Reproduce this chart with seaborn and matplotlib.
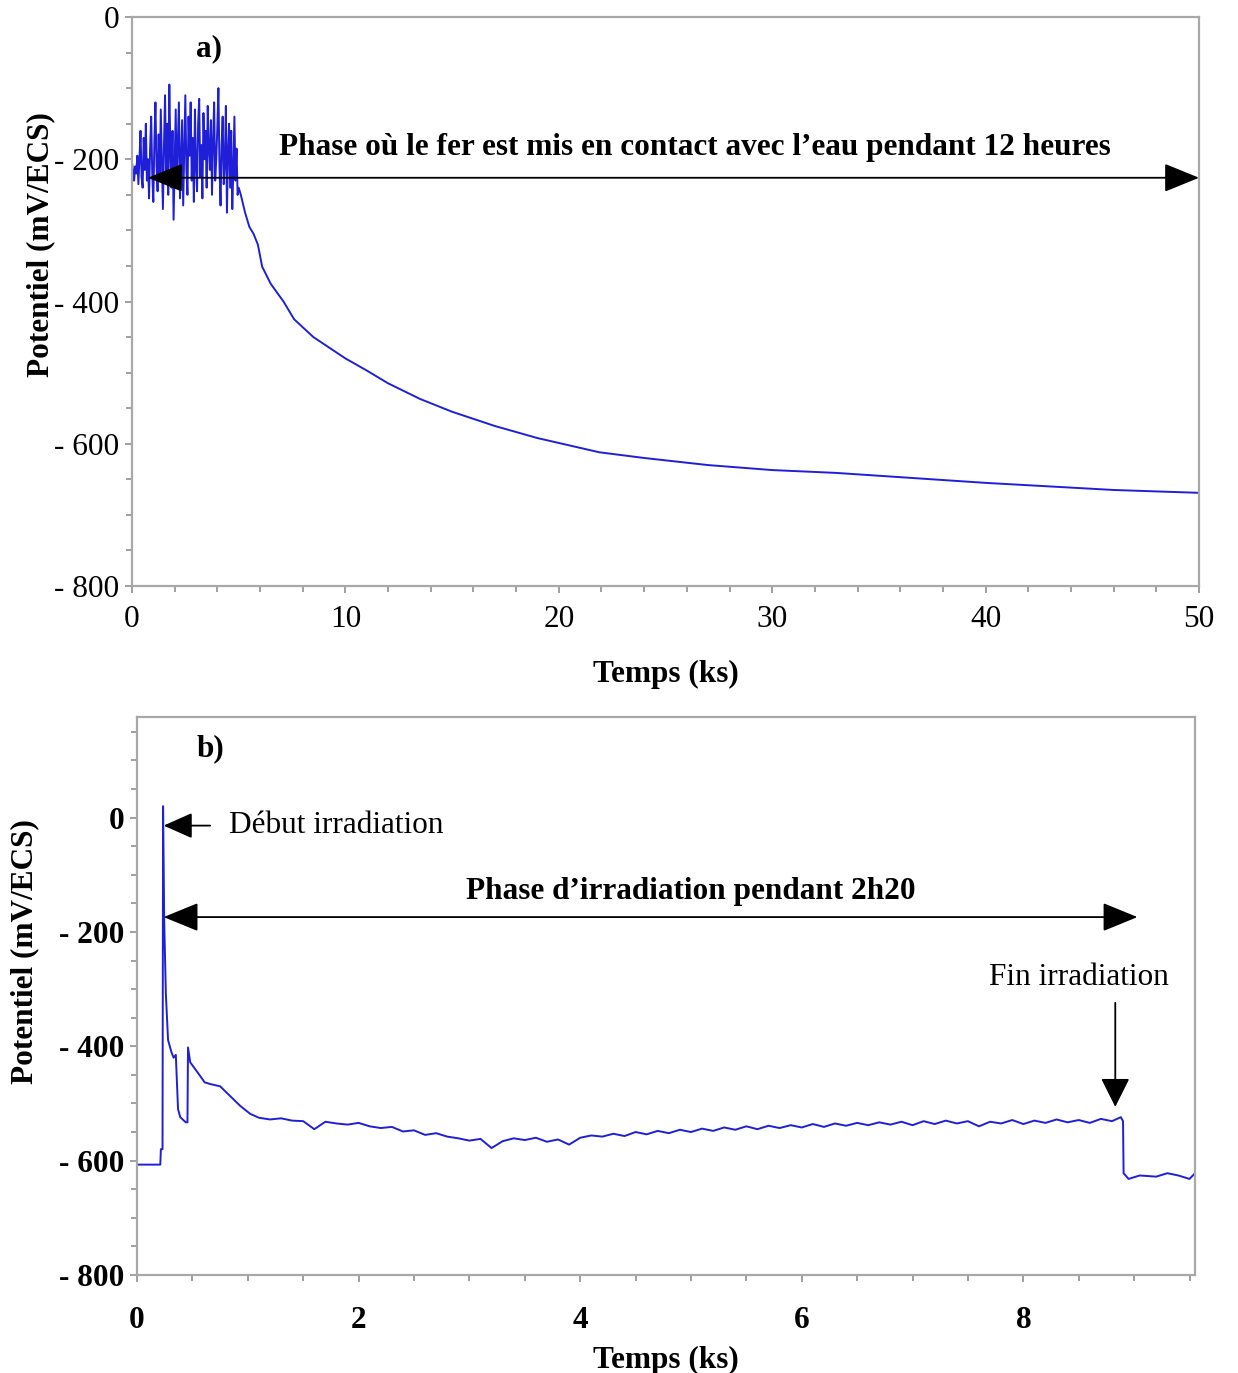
import numpy as np
import pandas as pd
import matplotlib
matplotlib.use("Agg")
import matplotlib.pyplot as plt
import seaborn as sns

# ---- data ----
# a) fer au contact de l'eau, 0-50 ks
t_a_noise = [0.00, 0.05, 0.10, 0.15, 0.20, 0.25, 0.30, 0.35, 0.40, 0.45,
             0.50, 0.55, 0.60, 0.65, 0.70, 0.75, 0.80, 0.85, 0.90, 0.95,
             1.00, 1.05, 1.10, 1.15, 1.20, 1.25, 1.30, 1.35, 1.40, 1.45,
             1.50, 1.55, 1.60, 1.65, 1.70, 1.75, 1.80, 1.85, 1.90, 1.95,
             2.00, 2.05, 2.10, 2.15, 2.20, 2.25, 2.30, 2.35, 2.40, 2.45,
             2.50, 2.55, 2.60, 2.65, 2.70, 2.75, 2.80, 2.85, 2.90, 2.95,
             3.00, 3.05, 3.10, 3.15, 3.20, 3.25, 3.30, 3.35, 3.40, 3.45,
             3.50, 3.55, 3.60, 3.65, 3.70, 3.75, 3.80, 3.85, 3.90, 3.95,
             4.00, 4.05, 4.10, 4.15, 4.20, 4.25, 4.30, 4.35, 4.40, 4.45,
             4.50, 4.55, 4.60, 4.65, 4.70, 4.75, 4.80, 4.85, 4.90, 4.95,
             5.00]
e_a_noise = [-205, -215, -230, -210, -220, -195, -235, -200, -160, -225,
             -240, -170, -215, -150, -230, -200, -255, -185, -140, -220,
             -260, -175, -120, -210, -245, -165, -230, -130, -200, -270,
             -180, -110, -225, -150, -250, -95, -190, -240, -160, -285,
             -205, -130, -235, -175, -120, -255, -200, -145, -265, -185,
             -110, -215, -250, -140, -195, -120, -230, -170, -260, -130,
             -210, -245, -150, -115, -225, -180, -255, -135, -200, -160,
             -240, -125, -185, -215, -145, -250, -175, -120, -230, -200,
             -155, -100, -210, -265, -180, -140, -235, -205, -125, -275,
             -190, -150, -240, -160, -270, -215, -140, -230, -185, -250,
             -240]
t_a_decay = [5.1, 5.3, 5.5, 5.7, 5.9, 6.1, 6.5, 7.1, 7.6, 8.5, 10, 11, 12,
             13.5, 15, 17, 19, 21.9, 24, 27, 30, 33, 36, 40, 43, 46, 50]
e_a_decay = [-250, -275, -295, -305, -320, -351, -375, -400, -425, -450, -480,
             -497, -515, -537, -555, -575, -592, -612, -620, -630, -637, -641,
             -647, -655, -660, -665, -669]

# b) irradiation, 0-9.5 ks
t_b_start = [0, 0.21, 0.215, 0.23, 0.235, 0.245, 0.26, 0.28, 0.31, 0.33, 0.35,
             0.37, 0.39, 0.44, 0.455, 0.46, 0.48, 0.57, 0.61, 0.66, 0.75, 0.84,
             0.93, 1.02]
e_b_start = [-607, -607, -580, -580, 20, -180, -308, -389, -410, -420, -415,
             -510, -524, -533, -533, -402, -428, -452, -463, -466, -470, -487,
             -504, -518]
t_b_mid = [1.1, 1.2, 1.3, 1.4, 1.5, 1.6, 1.7, 1.8, 1.9, 2.0,
           2.1, 2.2, 2.3, 2.4, 2.5, 2.6, 2.7, 2.8, 2.9, 3.0,
           3.1, 3.2, 3.3, 3.4, 3.5, 3.6, 3.7, 3.8, 3.9, 4.0,
           4.1, 4.2, 4.3, 4.4, 4.5, 4.6, 4.7, 4.8, 4.9, 5.0,
           5.1, 5.2, 5.3, 5.4, 5.5, 5.6, 5.7, 5.8, 5.9, 6.0,
           6.1, 6.2, 6.3, 6.4, 6.5, 6.6, 6.7, 6.8, 6.9, 7.0,
           7.1, 7.2, 7.3, 7.4, 7.5, 7.6, 7.7, 7.8, 7.9, 8.0,
           8.1, 8.2, 8.3, 8.4, 8.5, 8.6, 8.7, 8.8]
e_b_mid = [-525, -528, -526, -530, -531, -545, -532, -535, -537, -534,
           -540, -543, -541, -549, -547, -555, -552, -558, -561, -565,
           -562, -578, -566, -561, -564, -560, -567, -563, -572, -560,
           -556, -558, -553, -557, -550, -554, -548, -552, -546, -550,
           -544, -548, -542, -546, -540, -545, -539, -543, -538, -542,
           -536, -541, -535, -539, -534, -538, -533, -537, -532, -538,
           -531, -536, -530, -535, -531, -540, -532, -535, -529, -536,
           -530, -534, -528, -533, -529, -534, -527, -531]
t_b_end = [8.88, 8.9, 8.905, 8.95, 9.05, 9.2, 9.3, 9.4, 9.5, 9.55]
e_b_end = [-524, -531, -622, -632, -626, -628, -622, -626, -632, -622]

df_a = pd.DataFrame({"t": t_a_noise + t_a_decay, "E": e_a_noise + e_a_decay})
df_b = pd.DataFrame({"t": t_b_start + t_b_mid + t_b_end,
                     "E": e_b_start + e_b_mid + e_b_end})

sns.set_style("white")
plt.rcParams['font.family'] = ['Liberation Serif', 'DejaVu Serif']
plt.rcParams['text.color'] = 'black'
plt.rcParams['axes.labelcolor'] = 'black'
plt.rcParams['xtick.labelcolor'] = 'black'
plt.rcParams['ytick.labelcolor'] = 'black'

line_col = "#1f1fd8"
spine_col = "#a8a8a8"
fs = 22.5

fig = plt.figure(figsize=(12.38, 13.73), dpi=100)
ax1 = fig.add_axes([0.1066, 0.5732, 0.8619, 0.4144])
ax2 = fig.add_axes([0.1107, 0.0714, 0.8546, 0.4064])

sns.lineplot(data=df_a, x="t", y="E", ax=ax1, sort=False, estimator=None,
             color=line_col, linewidth=1.4)
sns.lineplot(data=df_b, x="t", y="E", ax=ax2, sort=False, estimator=None,
             color=line_col, linewidth=1.4)

def style_axes(ax, bold, xpad):
    for s in ax.spines.values():
        s.set_color(spine_col)
        s.set_linewidth(1.6)
    ax.tick_params(which="both", direction="out", color="#909090", width=1.2)
    ax.tick_params(which="major", length=5, pad=4, labelsize=fs)
    ax.tick_params(axis="x", which="major", pad=xpad)
    ax.tick_params(which="minor", length=4)
    ax.tick_params(axis="x", which="both", bottom=True)
    ax.tick_params(axis="y", which="both", left=True)
    w = "bold" if bold else "normal"
    for lab in ax.get_xticklabels() + ax.get_yticklabels():
        lab.set_fontweight(w)

# panel a
ax1.set_xlim(0, 50)
ax1.set_ylim(-800, 0)
ax1.set_xticks([0, 10, 20, 30, 40, 50])
ax1.set_xticks(np.arange(0, 51, 2), minor=True)
ax1.set_yticks([0, -200, -400, -600, -800])
ax1.set_yticks(np.arange(-800, 1, 50), minor=True)
ax1.set_yticklabels(["0", "- 200", "- 400", "- 600", "- 800"])
ax1.set_xlabel("Temps (ks)", fontsize=fs, fontweight="bold", labelpad=18)
ax1.set_ylabel("Potentiel (mV/ECS)", fontsize=fs, fontweight="bold")
ax1.yaxis.set_label_coords(-0.072, 0.6)
style_axes(ax1, False, 9)
ax1.text(3.6, -45, "a)", fontsize=fs, fontweight="bold", ha="center", va="center")
ax1.text(26.4, -183, "Phase où le fer est mis en contact avec l’eau pendant 12 heures",
         fontsize=fs, fontweight="bold", ha="center", va="center")
ax1.annotate("", xy=(0.75, -226), xytext=(50, -226),
             arrowprops=dict(arrowstyle="<|-|>,head_length=1.1,head_width=0.45",
                             mutation_scale=20, color="black", lw=1.3,
                             shrinkA=0, shrinkB=0))

# panel b
ax2.set_xlim(0, 9.55)
ax2.set_ylim(-800, 176)
ax2.set_xticks([0, 2, 4, 6, 8])
ax2.set_xticks(np.arange(0, 9.6, 0.5), minor=True)
ax2.set_yticks([0, -200, -400, -600, -800])
ax2.set_yticks(np.arange(-800, 176, 50), minor=True)
ax2.set_yticklabels(["0", "- 200", "- 400", "- 600", "- 800"])
ax2.set_xlabel("Temps (ks)", fontsize=fs, fontweight="bold", labelpad=8)
ax2.set_ylabel("Potentiel (mV/ECS)", fontsize=fs, fontweight="bold")
ax2.yaxis.set_label_coords(-0.092, 0.58)
style_axes(ax2, True, 17)
ax2.text(0.66, 120, "b)", fontsize=fs, fontweight="bold", ha="center", va="center")
ax2.text(0.83, -14, "Début irradiation", fontsize=fs, ha="left", va="center")
ax2.annotate("", xy=(0.24, -14), xytext=(0.66, -14),
             arrowprops=dict(arrowstyle="-|>,head_length=0.9,head_width=0.4",
                             mutation_scale=20, color="black", lw=1.3,
                             shrinkA=0, shrinkB=0))
ax2.text(5.0, -130, "Phase d’irradiation pendant 2h20", fontsize=fs,
         fontweight="bold", ha="center", va="center")
ax2.annotate("", xy=(0.24, -174), xytext=(9.03, -174),
             arrowprops=dict(arrowstyle="<|-|>,head_length=1.1,head_width=0.45",
                             mutation_scale=20, color="black", lw=1.3,
                             shrinkA=0, shrinkB=0))
ax2.text(8.5, -280, "Fin irradiation", fontsize=fs, ha="center", va="center")
ax2.annotate("", xy=(8.83, -506), xytext=(8.83, -324),
             arrowprops=dict(arrowstyle="-|>,head_length=0.9,head_width=0.45",
                             mutation_scale=20, color="black", lw=1.3,
                             shrinkA=0, shrinkB=0))

fig.savefig("out.png", dpi=100)
